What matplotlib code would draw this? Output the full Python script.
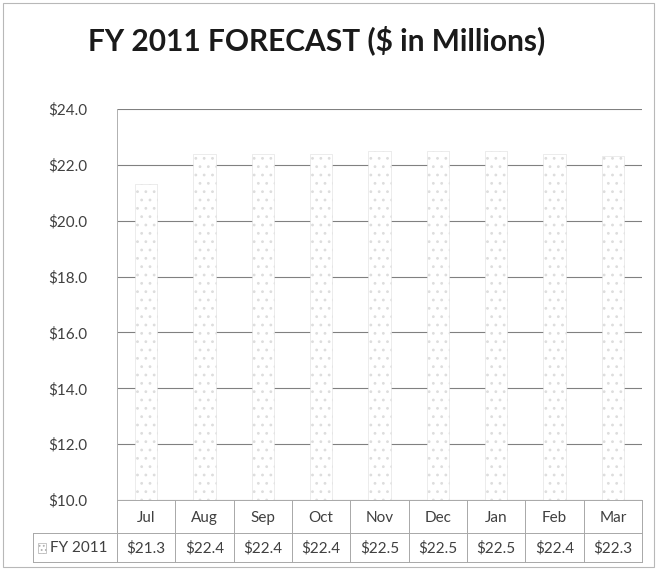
import matplotlib
matplotlib.use("Agg")
import matplotlib.pyplot as plt
from matplotlib.patches import Rectangle
from matplotlib.lines import Line2D

months = ["Jul", "Aug", "Sep", "Oct", "Nov", "Dec", "Jan", "Feb", "Mar"]
fy2011 = [21.3, 22.4, 22.4, 22.4, 22.5, 22.5, 22.5, 22.4, 22.3]
series_name = "FY 2011"
title = "FY 2011 FORECAST ($ in Millions)"
yticks = [10, 12, 14, 16, 18, 20, 22, 24]

plt.rcParams['font.family'] = ['Lato', 'DejaVu Sans']
plt.rcParams['hatch.linewidth'] = 0.8

W, H = 659, 571
fig = plt.figure(figsize=(W / 100, H / 100), dpi=100)

def fx(px):
    return px / W

def fy(py):
    return 1 - py / H

ax_left, ax_right, ax_top, ax_bottom = 117, 642, 109, 500
ax = fig.add_axes([fx(ax_left), fy(ax_bottom), fx(ax_right) - fx(ax_left), fy(ax_top) - fy(ax_bottom)])

x = list(range(len(months)))
ax.bar(x, fy2011, width=0.38, bottom=0, color='white', edgecolor='#dddddd',
       linewidth=0.4, hatch='..', zorder=3)
ax.set_xlim(-0.5, len(months) - 0.5)
ax.set_ylim(10, 24)
ax.set_yticks(yticks)
ax.set_yticklabels([f"${v:.1f}" for v in yticks], fontsize=11, color='#404040')
ax.tick_params(axis='y', length=0, pad=21)
ax.set_xticks([])
ax.grid(axis='y', color='#808080', linewidth=0.8, zorder=0)
for s in ['top', 'right', 'bottom']:
    ax.spines[s].set_visible(False)
ax.spines['left'].set_color('#b0b0b0')
ax.spines['left'].set_linewidth(0.7)

fig.text(fx(317), fy(40), title, fontsize=21.5, fontweight='bold', ha='center', va='center',
         color='#1a1a1a')

# data table
line_c = '#a8a8a8'
row1_top, row1_bot, row2_bot = 500, 533, 562
hdr_left = 33
cw = (ax_right - ax_left) / len(months)

def hline(y, x0, x1):
    fig.add_artist(Line2D([fx(x0), fx(x1)], [fy(y), fy(y)], color=line_c, lw=0.7))

def vline(xp, y0, y1):
    fig.add_artist(Line2D([fx(xp), fx(xp)], [fy(y0), fy(y1)], color=line_c, lw=0.7))

hline(row1_top, ax_left, ax_right)
hline(row1_bot, hdr_left, ax_right)
hline(row2_bot, hdr_left, ax_right)
for i in range(len(months) + 1):
    vline(ax_left + i * cw, row1_top, row2_bot)
vline(hdr_left, row1_bot, row2_bot)

for i, (m, v) in enumerate(zip(months, fy2011)):
    cx = ax_left + (i + 0.5) * cw
    fig.text(fx(cx), fy(518), m, fontsize=11, ha='center', va='center', color='#404040')
    fig.text(fx(cx), fy(548), f"${v:.1f}", fontsize=11, ha='center', va='center', color='#404040')

# legend key
fig.add_artist(Rectangle((fx(38), fy(553)), fx(8), fy(543) - fy(553), facecolor='white',
                         edgecolor='#b0b0b0', hatch='....', linewidth=0.5))
fig.text(fx(50), fy(548), series_name, fontsize=11, ha='left', va='center', color='#404040')

# outer border
fig.add_artist(Rectangle((fx(3), fy(567)), fx(654) - fx(3), fy(3) - fy(567), fill=False,
                         edgecolor='#b8b8b8', linewidth=0.8))

fig.savefig("out.png", dpi=100)
